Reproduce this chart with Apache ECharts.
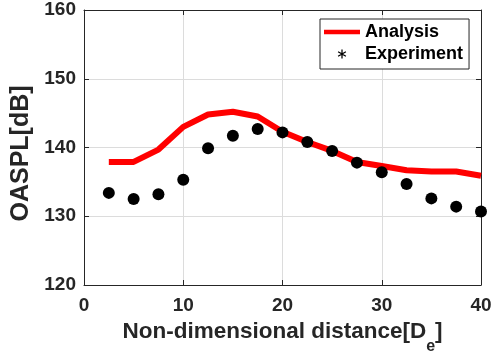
<!DOCTYPE html>
<html><head><meta charset="utf-8">
<script src="https://cdn.jsdelivr.net/npm/echarts@6/dist/echarts.min.js"></script>
<style>html,body{margin:0;padding:0;background:#fff}#c{width:500px;height:353px}</style>
</head><body><div id="c"></div>
<script>
const xPositions = [2.5, 5, 7.5, 10, 12.5, 15, 17.5, 20, 22.5, 25, 27.5, 30, 32.5, 35, 37.5, 40];
const analysis = [137.9, 137.9, 139.7, 143.0, 144.8, 145.2, 144.5, 142.3, 140.8, 139.5, 137.9, 137.3, 136.7, 136.5, 136.5, 135.9];
const experiment = [133.4, 132.5, 133.2, 135.3, 139.9, 141.7, 142.7, 142.2, 140.8, 139.5, 137.8, 136.4, 134.7, 132.6, 131.4, 130.7];
const xTicks = [0, 10, 20, 30, 40];
const yTicks = [120, 130, 140, 150, 160];

const pair = (xs, ys) => xs.map((x, i) => [x, ys[i]]);
const font = '"Liberation Sans", Arial, Helvetica, sans-serif';
const dark = '#262626';
const asterisk = 'path://M4.3,0L5.7,0L5.7,10L4.3,10Z M8.98,8.11L0.32,3.11L1.02,1.89L9.68,6.89Z M9.68,3.11L1.02,8.11L0.32,6.89L8.98,1.89Z';

const chart = echarts.init(document.getElementById('c'), null, {renderer: 'canvas'});
const axisCommon = {
  axisLine: {show: true, onZero: false, lineStyle: {color: dark, width: 1}},
  axisTick: {show: true, inside: true, length: 5, lineStyle: {color: dark}},
};
chart.setOption({
  animation: false,
  backgroundColor: '#fff',
  grid: {left: 84, top: 10, right: 19, bottom: 68, containLabel: false, outerBoundsMode: 'none'},
  legend: {
    orient: 'vertical', left: 320, top: 19,
    padding: [4, 6, 6, 4], itemGap: 4,
    itemWidth: 36, itemHeight: 9,
    borderColor: dark, borderWidth: 1, backgroundColor: '#fff', borderRadius: 0,
    textStyle: {fontFamily: font, fontWeight: 'bold', fontSize: 18, lineHeight: 18, color: '#000'},
    data: [
      {name: 'Analysis', icon: 'path://M0,0h40v5h-40z'},
      {name: 'Experiment', icon: asterisk}
    ]
  },
  xAxis: [
    Object.assign({
      type: 'value', min: 0, max: 40, interval: 10, position: 'bottom',
      name: 'Non-dimensional distance[D{sub|e}]', nameLocation: 'middle', nameGap: 35,
      nameTextStyle: {fontFamily: font, fontWeight: 'bold', fontSize: 22.5, color: dark,
        rich: {sub: {fontFamily: font, fontWeight: 'bold', fontSize: 16, color: dark, verticalAlign: 'bottom', padding: [0, 0, -12, 0]}}},
      axisLabel: {fontFamily: font, fontWeight: 'bold', fontSize: 19, color: dark, margin: 11,
        formatter: v => xTicks.includes(v) ? String(v) : ''},
      splitLine: {show: true, lineStyle: {color: '#dcdcdc', width: 1}}
    }, axisCommon),
    Object.assign({
      type: 'value', min: 0, max: 40, interval: 10, position: 'top',
      axisLabel: {show: false}, splitLine: {show: false}
    }, axisCommon)
  ],
  yAxis: [
    Object.assign({
      type: 'value', min: 120, max: 160, interval: 10, position: 'left',
      name: 'OASPL[dB]', nameLocation: 'middle', nameGap: 45,
      nameTextStyle: {fontFamily: font, fontWeight: 'bold', fontSize: 25, color: dark, padding: [0, 12, 0, 0]},
      axisLabel: {fontFamily: font, fontWeight: 'bold', fontSize: 19, color: dark, margin: 8,
        formatter: v => yTicks.includes(v) ? String(v) : ''},
      splitLine: {show: true, lineStyle: {color: '#dcdcdc', width: 1}}
    }, axisCommon),
    Object.assign({
      type: 'value', min: 120, max: 160, interval: 10, position: 'right',
      axisLabel: {show: false}, splitLine: {show: false}
    }, axisCommon)
  ],
  series: [
    {
      name: 'Analysis', type: 'line', data: pair(xPositions, analysis),
      showSymbol: false, symbol: 'none', color: '#ff0000',
      lineStyle: {color: '#ff0000', width: 6}, z: 2
    },
    {
      name: 'Experiment', type: 'scatter', data: pair(xPositions, experiment),
      symbol: 'circle', symbolSize: 12, color: '#000', clip: false,
      itemStyle: {color: '#000', opacity: 1}, z: 3
    }
  ]
});
</script></body></html>
